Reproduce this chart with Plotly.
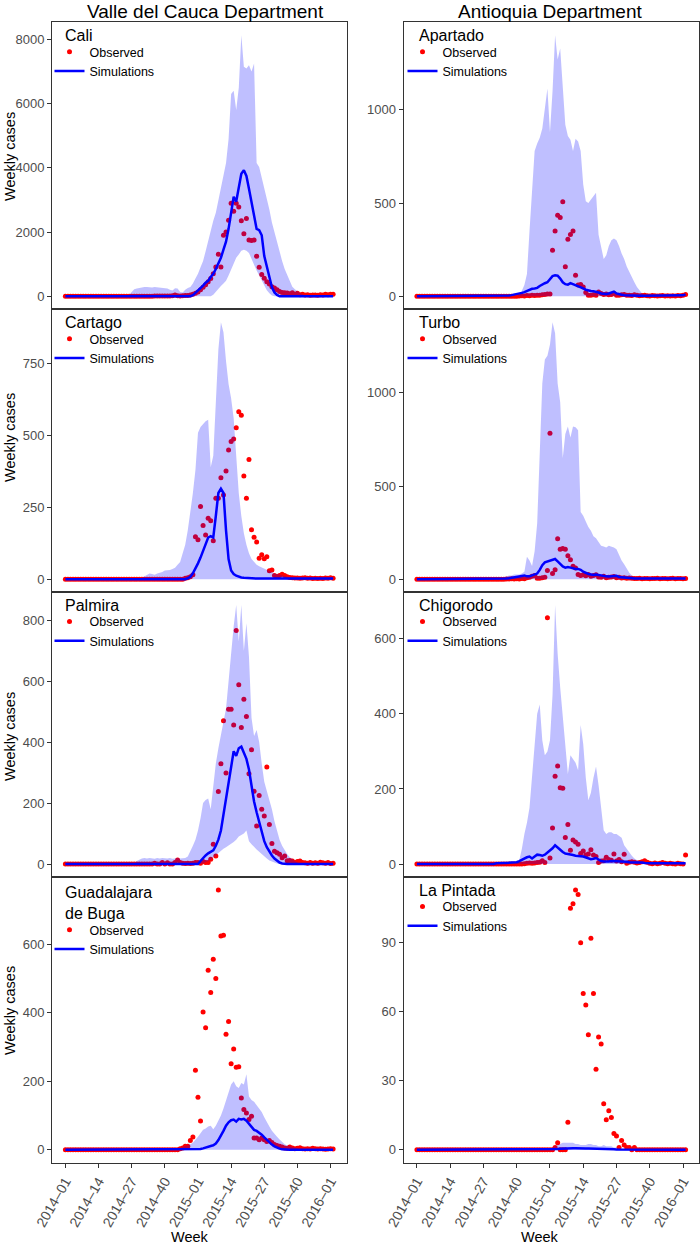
import plotly.graph_objects as go

FONT = "Liberation Sans, Arial, Helvetica, sans-serif"

# ---------------- categories (epidemiological weeks) ----------------
WEEK_LABELS = ([f"2014–{w:02d}" for w in range(1, 53)] +
               [f"2015–{w:02d}" for w in range(1, 53)] +
               ["2016–01", "2016–02"])
TICK_LABELS = ["2014–01", "2014–14", "2014–27", "2014–40", "2015–01",
               "2015–14", "2015–27", "2015–40", "2016–01"]

COLUMN_TITLES = ["Valle del Cauca Department", "Antioquia Department"]
PANEL_NAMES = ["Cali", "Apartado", "Cartago", "Turbo", "Palmira", "Chigorodo",
               "Guadalajara<br>de Buga", "La Pintada"]
Y_DTICKS = [2000, 500, 250, 500, 200, 200, 200, 30]

# ---------------- Cali ----------------
CALI_OBS = [0, 0, 0, 0, 0, 0, 0, 0, 0, 0,
            0, 0, 0, 0, 0, 0, 0, 0, 0, 0,
            0, 0, 0, 0, 0, 0, 0, 0, 0, 0,
            0, 0, 0, 0, 0, 5, 5, 5, 8, 8,
            10, 10, 15, 40, 15, 10, 15, 20, 25, 40,
            60, 90, 130, 200, 280, 360, 450, 550, 700, 910,
            1310, 910, 1900, 2000, 2370, 2900, 2650, 2900, 2780, 2350,
            1950, 2420, 1750, 1740, 1750, 1250, 900, 680, 560, 450,
            380, 300, 260, 200, 150, 120, 110, 100, 80, 110,
            60, 90, 50, 60, 40, 50, 30, 40, 40, 30,
            50, 40, 60, 50, 60, 60]
CALI_SIM = [0, 0, 0, 0, 0, 0, 0, 0, 0, 0,
            0, 0, 0, 0, 0, 0, 0, 0, 0, 0,
            0, 0, 0, 0, 0, 0, 0, 0, 0, 0,
            0, 0, 0, 0, 0, 0, 0, 0, 0, 0,
            0, 0, 0, 0, 0, 0, 0, 0, 0, 0,
            30, 100, 170, 250, 330, 420, 480, 600, 700, 850,
            1000, 1200, 1450, 1700, 2100, 2600, 3100, 2950, 3450, 3820,
            3930, 3750, 3350, 2900, 2450, 2100, 2060, 1900, 1250, 900,
            550, 280, 120, 40, 0, 0, 0, 0, 0, 0,
            0, 0, 0, 0, 0, 0, 0, 0, 0, 0,
            0, 0, 0, 0, 0, 0]
CALI_LO = [0, 0, 0, 0, 0, 0, 0, 0, 0, 0,
           0, 0, 0, 0, 0, 0, 0, 0, 0, 0,
           0, 0, 0, 0, 0, 0, 0, 0, 0, 0,
           0, 0, 0, 0, 0, 0, 0, 0, 0, 0,
           0, 0, 0, 0, 0, 0, 0, 0, 0, 0,
           0, 0, 0, 0, 0, 0, 0, 0, 50, 150,
           250, 320, 400, 480, 650, 850, 1050, 1200, 1300, 1420,
           1450, 1420, 1350, 1150, 950, 800, 650, 480, 330, 190,
           90, 20, 0, 0, 0, 0, 0, 0, 0, 0,
           0, 0, 0, 0, 0, 0, 0, 0, 0, 0,
           0, 0, 0, 0, 0, 0]
CALI_HI = [0, 0, 0, 0, 0, 0, 0, 0, 0, 0,
           0, 0, 0, 0, 0, 0, 0, 0, 0, 0,
           0, 0, 0, 0, 0, 50, 150, 220, 240, 260,
           280, 290, 290, 280, 270, 290, 280, 270, 260, 250,
           240, 200, 180, 250, 240, 130, 120, 200, 260, 290,
           400, 550, 700, 900, 1100, 1400, 1750, 2100, 2350, 2600,
           3000, 3400, 3750, 4150, 4900, 6300, 6400, 5800, 6500, 8130,
           7150, 7100, 7200, 7000, 7250, 4150, 4030, 3700, 3400, 3100,
           2700, 2300, 2000, 1650, 1350, 1100, 850, 650, 450, 300,
           220, 150, 100, 60, 20, 5, 0, 0, 0, 0,
           0, 0, 0, 0, 0, 0]

# ---------------- Apartado ----------------
APARTADO_OBS = [0, 0, 0, 0, 0, 0, 0, 0, 0, 0,
                0, 0, 0, 0, 0, 0, 0, 0, 0, 0,
                0, 0, 0, 0, 0, 0, 0, 0, 0, 0,
                0, 0, 0, 0, 0, 0, 0, 0, 0, 0,
                2, 3, 2, 4, 3, 5, 4, 5, 6, 8,
                10, 12, 12, 247, 350, 435, 423, 507, 158, 306,
                331, 350, 113, 60, 63, 50, 20, 5, 5, 8,
                5, 23, 15, 10, 12, 8, 10, 15, 6, 5,
                8, 10, 6, 5, 4, 8, 5, 3, 4, 5,
                3, 2, 4, 3, 2, 3, 4, 2, 3, 2,
                3, 2, 4, 3, 5, 10]
APARTADO_SIM = [0, 0, 0, 0, 0, 0, 0, 0, 0, 0,
                0, 0, 0, 0, 0, 0, 0, 0, 0, 0,
                0, 0, 0, 0, 0, 0, 0, 0, 0, 0,
                0, 0, 0, 0, 0, 2, 4, 6, 8, 10,
                14, 18, 22, 28, 35, 40, 42, 45, 55, 65,
                70, 75, 95, 108, 112, 110, 95, 75, 65, 62,
                70, 65, 58, 52, 48, 42, 35, 30, 28, 27,
                25, 20, 15, 12, 12, 15, 20, 25, 15, 10,
                8, 6, 5, 3, 3, 3, 3, 3, 3, 3,
                3, 3, 3, 3, 3, 3, 3, 3, 3, 3,
                3, 3, 3, 3, 5, 10]
APARTADO_LO = [0, 0, 0, 0, 0, 0, 0, 0, 0, 0,
               0, 0, 0, 0, 0, 0, 0, 0, 0, 0,
               0, 0, 0, 0, 0, 0, 0, 0, 0, 0,
               0, 0, 0, 0, 0, 0, 0, 0, 0, 0,
               0, 0, 0, 0, 0, 0, 0, 0, 0, 0,
               0, 0, 0, 0, 0, 0, 0, 0, 0, 0,
               0, 0, 0, 0, 0, 0, 0, 0, 0, 0,
               0, 0, 0, 0, 0, 0, 0, 0, 0, 0,
               0, 0, 0, 0, 0, 0, 0, 0, 0, 0,
               0, 0, 0, 0, 0, 0, 0, 0, 0, 0,
               0, 0, 0, 0, 0, 0]
APARTADO_HI = [0, 0, 0, 0, 0, 0, 0, 0, 0, 0,
               0, 0, 0, 0, 0, 0, 0, 0, 0, 0,
               0, 0, 0, 0, 0, 0, 0, 0, 0, 0,
               0, 0, 0, 0, 0, 0, 0, 0, 0, 0,
               10, 30, 60, 120, 350, 600, 780, 820, 850, 900,
               1000, 1115, 880, 1100, 1400, 1270, 1330, 1100, 920, 860,
               840, 780, 845, 830, 780, 600, 510, 500, 520, 540,
               555, 330, 260, 200, 220, 270, 300, 310, 300, 270,
               230, 200, 160, 130, 100, 75, 50, 30, 15, 5,
               0, 0, 0, 0, 0, 0, 0, 0, 0, 0,
               0, 0, 0, 0, 0, 0]

# ---------------- Cartago ----------------
CARTAGO_OBS = [0, 0, 0, 0, 0, 0, 0, 0, 0, 0,
               0, 0, 0, 0, 0, 0, 0, 0, 0, 0,
               0, 0, 0, 0, 0, 0, 0, 0, 0, 0,
               0, 0, 0, 0, 0, 0, 0, 0, 0, 0,
               0, 0, 0, 0, 0, 0, 0, 3, 5, 8,
               15, 148, 137, 253, 187, 154, 212, 203, 134, 282,
               282, 353, 293, 377, 450, 479, 488, 527, 583, 571,
               359, 282, 417, 172, 146, 129, 73, 85, 71, 78,
               29, 32, 13, 9, 13, 17, 13, 8, 6, 5,
               4, 4, 3, 4, 5, 3, 4, 2, 3, 2,
               3, 2, 4, 3, 5, 3]
CARTAGO_SIM = [0, 0, 0, 0, 0, 0, 0, 0, 0, 0,
               0, 0, 0, 0, 0, 0, 0, 0, 0, 0,
               0, 0, 0, 0, 0, 0, 0, 0, 0, 0,
               0, 0, 0, 0, 0, 0, 0, 0, 0, 0,
               0, 0, 0, 0, 0, 0, 0, 0, 3, 8,
               20, 35, 55, 75, 100, 125, 145, 150, 145, 220,
               300, 315, 300, 170, 70, 30, 18, 12, 8, 6,
               5, 4, 3, 2, 2, 2, 2, 2, 2, 2,
               2, 2, 2, 2, 2, 2, 2, 2, 2, 2,
               2, 2, 2, 2, 2, 2, 2, 2, 2, 2,
               2, 2, 2, 2, 2, 2]
CARTAGO_LO = [0, 0, 0, 0, 0, 0, 0, 0, 0, 0,
              0, 0, 0, 0, 0, 0, 0, 0, 0, 0,
              0, 0, 0, 0, 0, 0, 0, 0, 0, 0,
              0, 0, 0, 0, 0, 0, 0, 0, 0, 0,
              0, 0, 0, 0, 0, 0, 0, 0, 0, 0,
              0, 0, 0, 0, 0, 0, 0, 0, 0, 0,
              0, 0, 0, 0, 0, 0, 0, 0, 0, 0,
              0, 0, 0, 0, 0, 0, 0, 0, 0, 0,
              0, 0, 0, 0, 0, 0, 0, 0, 0, 0,
              0, 0, 0, 0, 0, 0, 0, 0, 0, 0,
              0, 0, 0, 0, 0, 0]
CARTAGO_HI = [0, 0, 0, 0, 0, 0, 0, 0, 0, 0,
              0, 0, 0, 0, 0, 0, 0, 0, 0, 0,
              0, 0, 0, 0, 0, 0, 0, 0, 0, 0,
              5, 10, 15, 20, 18, 15, 20, 22, 25, 30,
              30, 32, 35, 40, 50, 60, 90, 120, 170, 230,
              300, 380, 510, 530, 540, 550, 555, 390, 430, 600,
              800, 895, 860, 760, 680, 630, 560, 430, 300, 220,
              160, 120, 90, 70, 60, 50, 45, 40, 35, 32,
              28, 25, 20, 18, 15, 12, 10, 8, 6, 5,
              4, 3, 2, 2, 2, 2, 2, 2, 2, 2,
              2, 2, 2, 2, 2, 2]

# ---------------- Turbo ----------------
TURBO_OBS = [0, 0, 0, 0, 0, 0, 0, 0, 0, 0,
             0, 0, 0, 0, 0, 0, 0, 0, 0, 0,
             0, 0, 0, 0, 0, 0, 0, 0, 0, 0,
             0, 0, 0, 0, 0, 1, 1, 2, 1, 2,
             1, 3, 2, 8, 10, 15, 20, 5, 5, 8,
             10, 46, 783, 30, 51, 217, 161, 164, 161, 125,
             104, 69, 60, 25, 19, 23, 18, 25, 15, 20,
             23, 12, 10, 16, 8, 10, 12, 14, 8, 10,
             6, 8, 5, 6, 5, 4, 3, 5, 2, 4,
             3, 2, 4, 3, 5, 2, 3, 4, 2, 3,
             5, 2, 3, 4, 2, 3]
TURBO_SIM = [0, 0, 0, 0, 0, 0, 0, 0, 0, 0,
             0, 0, 0, 0, 0, 0, 0, 0, 0, 0,
             0, 0, 0, 0, 0, 0, 0, 0, 0, 0,
             0, 0, 0, 0, 0, 3, 5, 7, 8, 10,
             12, 15, 20, 15, 15, 20, 25, 30, 50, 75,
             90, 95, 100, 105, 108, 95, 80, 68, 62, 65,
             62, 58, 55, 55, 50, 40, 32, 28, 25, 22,
             25, 22, 18, 16, 15, 14, 15, 20, 18, 12,
             10, 12, 8, 6, 5, 3, 3, 3, 3, 3,
             3, 3, 3, 3, 3, 3, 3, 3, 3, 3,
             3, 3, 3, 3, 3, 3]
TURBO_LO = [0, 0, 0, 0, 0, 0, 0, 0, 0, 0,
            0, 0, 0, 0, 0, 0, 0, 0, 0, 0,
            0, 0, 0, 0, 0, 0, 0, 0, 0, 0,
            0, 0, 0, 0, 0, 0, 0, 0, 0, 0,
            0, 0, 0, 0, 0, 0, 0, 0, 0, 0,
            0, 0, 0, 0, 0, 0, 0, 0, 0, 0,
            0, 0, 0, 0, 0, 0, 0, 0, 0, 0,
            0, 0, 0, 0, 0, 0, 0, 0, 0, 0,
            0, 0, 0, 0, 0, 0, 0, 0, 0, 0,
            0, 0, 0, 0, 0, 0, 0, 0, 0, 0,
            0, 0, 0, 0, 0, 0]
TURBO_HI = [0, 0, 0, 0, 0, 0, 0, 0, 0, 0,
            0, 0, 0, 0, 0, 0, 0, 0, 0, 0,
            0, 0, 0, 0, 0, 0, 0, 0, 0, 0,
            0, 0, 0, 0, 10, 15, 20, 20, 25, 25,
            25, 30, 40, 120, 100, 70, 150, 300, 700, 1050,
            1180, 1200, 1260, 1380, 1320, 1050, 950, 650, 780, 820,
            760, 820, 815, 800, 360, 340, 310, 280, 260, 230,
            220, 200, 180, 175, 170, 180, 175, 170, 160, 130,
            100, 80, 55, 35, 20, 10, 5, 0, 0, 0,
            0, 0, 0, 0, 0, 0, 0, 0, 0, 0,
            0, 0, 0, 0, 0, 0]

# ---------------- Palmira ----------------
PALMIRA_OBS = [0, 0, 0, 0, 0, 0, 0, 0, 0, 0,
               0, 0, 0, 0, 0, 0, 0, 0, 0, 0,
               0, 0, 0, 0, 0, 0, 0, 0, 0, 0,
               0, 0, 0, 0, 0, 3, 0, 0, 5, 0,
               4, 0, 0, 5, 13, 5, 3, 2, 3, 2,
               3, 5, 5, 3, 8, 5, 5, 16, 65, 26,
               238, 329, 470, 299, 508, 508, 456, 766, 588, 448,
               541, 484, 296, 375, 239, 125, 225, 180, 158, 318,
               130, 67, 42, 37, 32, 21, 26, 11, 12, 10,
               5, 8, 10, 5, 4, 3, 5, 3, 4, 3,
               6, 4, 3, 5, 2, 3]
PALMIRA_SIM = [0, 0, 0, 0, 0, 0, 0, 0, 0, 0,
               0, 0, 0, 0, 0, 0, 0, 0, 0, 0,
               0, 0, 0, 0, 0, 0, 0, 0, 0, 0,
               0, 0, 0, 0, 0, 0, 0, 0, 0, 0,
               0, 0, 0, 0, 0, 0, 0, 0, 0, 0,
               0, 0, 0, 10, 20, 28, 35, 40, 45, 60,
               80, 110, 160, 210, 260, 320, 370, 355, 380, 385,
               365, 345, 310, 260, 205, 170, 135, 100, 75, 55,
               40, 28, 18, 10, 5, 2, 0, 0, 0, 0,
               0, 0, 0, 0, 0, 0, 0, 0, 0, 0,
               0, 0, 0, 0, 0, 0]
PALMIRA_LO = [0, 0, 0, 0, 0, 0, 0, 0, 0, 0,
              0, 0, 0, 0, 0, 0, 0, 0, 0, 0,
              0, 0, 0, 0, 0, 0, 0, 0, 0, 0,
              0, 0, 0, 0, 0, 0, 0, 0, 0, 0,
              0, 0, 0, 0, 0, 0, 0, 0, 0, 0,
              0, 0, 0, 0, 3, 6, 10, 15, 22, 30,
              38, 45, 50, 55, 60, 65, 72, 80, 90, 95,
              100, 110, 75, 65, 55, 48, 40, 32, 25, 18,
              12, 8, 5, 2, 0, 0, 0, 0, 0, 0,
              0, 0, 0, 0, 0, 0, 0, 0, 0, 0,
              0, 0, 0, 0, 0, 0]
PALMIRA_HI = [0, 0, 0, 0, 0, 0, 0, 0, 0, 0,
              0, 0, 0, 0, 0, 0, 0, 0, 0, 0,
              0, 0, 0, 0, 0, 0, 0, 0, 10, 15,
              18, 20, 18, 20, 19, 17, 20, 18, 20, 19,
              18, 20, 17, 18, 20, 18, 20, 20, 25, 40,
              60, 80, 110, 150, 200, 210, 215, 180, 260, 330,
              380, 420, 460, 510, 600, 700, 780, 850, 730, 850,
              700, 790, 680, 480, 420, 440, 400, 330, 270, 240,
              210, 180, 140, 110, 80, 60, 45, 32, 22, 15,
              10, 5, 2, 2, 2, 2, 2, 2, 2, 2,
              2, 2, 2, 2, 2, 2]

# ---------------- Chigorodo ----------------
CHIGORODO_OBS = [0, 0, 0, 0, 0, 0, 0, 0, 0, 0,
                 0, 0, 0, 0, 0, 0, 0, 0, 0, 0,
                 0, 0, 0, 0, 0, 0, 0, 0, 0, 0,
                 0, 0, 0, 0, 0, 0, 0, 0, 0, 0,
                 0, 0, 1, 2, 3, 2, 3, 4, 5, 9,
                 4, 656, 16, 96, 234, 261, 203, 202, 71, 105,
                 37, 64, 59, 53, 28, 35, 24, 27, 38, 24,
                 20, 4, 8, 9, 18, 12, 10, 27, 8, 12,
                 6, 26, 2, 5, 6, 5, 3, 4, 6, 9,
                 5, 2, 1, 3, 1, 2, 4, 2, 1, 2,
                 1, 0, 2, 1, 0, 24]
CHIGORODO_SIM = [0, 0, 0, 0, 0, 0, 0, 0, 0, 0,
                 0, 0, 0, 0, 0, 0, 0, 0, 0, 0,
                 0, 0, 0, 0, 0, 0, 0, 0, 0, 0,
                 0, 2, 3, 3, 3, 3, 3, 3, 4, 5,
                 8, 12, 15, 18, 20, 15, 20, 25, 24, 22,
                 25, 30, 35, 42, 50, 45, 38, 32, 28, 27,
                 26, 24, 22, 22, 21, 20, 18, 15, 13, 14,
                 16, 12, 8, 7, 6, 7, 8, 8, 7, 7,
                 6, 6, 6, 5, 5, 5, 6, 5, 4, 3,
                 2, 2, 2, 2, 2, 2, 2, 2, 2, 2,
                 2, 2, 2, 2, 2, 2]
CHIGORODO_LO = [0, 0, 0, 0, 0, 0, 0, 0, 0, 0,
                0, 0, 0, 0, 0, 0, 0, 0, 0, 0,
                0, 0, 0, 0, 0, 0, 0, 0, 0, 0,
                0, 0, 0, 0, 0, 0, 0, 0, 0, 0,
                0, 0, 0, 0, 0, 0, 0, 0, 0, 0,
                0, 0, 0, 0, 0, 0, 0, 0, 0, 0,
                0, 0, 0, 0, 0, 0, 0, 0, 0, 0,
                0, 0, 0, 0, 0, 0, 0, 0, 0, 0,
                0, 0, 0, 0, 0, 0, 0, 0, 0, 0,
                0, 0, 0, 0, 0, 0, 0, 0, 0, 0,
                0, 0, 0, 0, 0, 0]
CHIGORODO_HI = [0, 0, 0, 0, 0, 0, 0, 0, 0, 0,
                0, 0, 0, 0, 0, 0, 0, 0, 0, 0,
                0, 0, 0, 0, 0, 0, 0, 0, 0, 0,
                0, 0, 0, 0, 0, 0, 0, 0, 0, 0,
                10, 40, 80, 110, 150, 240, 330, 400, 425, 330,
                290, 300, 330, 450, 690, 560, 470, 390, 300, 240,
                290, 280, 270, 250, 370, 320, 230, 170, 190, 230,
                260, 210, 140, 90, 80, 85, 85, 80, 80, 75,
                70, 50, 40, 30, 22, 15, 10, 5, 2, 0,
                0, 0, 0, 0, 0, 0, 0, 0, 0, 0,
                0, 0, 0, 0, 0, 0]

# ---------------- Guadalajara de Buga ----------------
BUGA_OBS = [0, 0, 0, 0, 0, 0, 0, 0, 0, 0,
            0, 0, 0, 0, 0, 0, 0, 0, 0, 0,
            0, 0, 0, 0, 0, 0, 0, 0, 0, 0,
            0, 0, 0, 0, 0, 0, 0, 0, 0, 0,
            0, 0, 0, 0, 0, 3, 5, 10, 10, 27,
            37, 232, 153, 84, 402, 356, 524, 459, 556, 500,
            758, 624, 626, 337, 374, 251, 294, 241, 242, 151,
            117, 107, 88, 98, 34, 34, 29, 34, 29, 24,
            27, 21, 15, 12, 10, 8, 5, 4, 8, 5,
            3, 4, 6, 3, 2, 3, 2, 4, 3, 2,
            3, 2, 1, 2, 3, 2]
BUGA_SIM = [0, 0, 0, 0, 0, 0, 0, 0, 0, 0,
            0, 0, 0, 0, 0, 0, 0, 0, 0, 0,
            0, 0, 0, 0, 0, 0, 0, 0, 0, 0,
            0, 0, 0, 0, 0, 0, 0, 0, 0, 0,
            0, 0, 0, 0, 0, 0, 0, 0, 0, 0,
            0, 0, 1, 2, 4, 7, 9, 11, 13, 18,
            28, 40, 55, 70, 80, 86, 88, 82, 90, 88,
            90, 85, 76, 66, 58, 55, 50, 44, 36, 28,
            22, 15, 10, 6, 3, 1, 0, 0, 0, 0,
            0, 0, 0, 0, 0, 0, 0, 0, 0, 0,
            0, 0, 0, 0, 0, 0]
BUGA_LO = [0, 0, 0, 0, 0, 0, 0, 0, 0, 0,
           0, 0, 0, 0, 0, 0, 0, 0, 0, 0,
           0, 0, 0, 0, 0, 0, 0, 0, 0, 0,
           0, 0, 0, 0, 0, 0, 0, 0, 0, 0,
           0, 0, 0, 0, 0, 0, 0, 0, 0, 0,
           0, 0, 0, 0, 0, 0, 0, 0, 0, 0,
           0, 0, 0, 0, 0, 0, 0, 0, 0, 0,
           0, 0, 0, 0, 0, 0, 0, 0, 0, 0,
           0, 0, 0, 0, 0, 0, 0, 0, 0, 0,
           0, 0, 0, 0, 0, 0, 0, 0, 0, 0,
           0, 0, 0, 0, 0, 0]
BUGA_HI = [0, 0, 0, 0, 0, 0, 0, 0, 0, 0,
           0, 0, 0, 0, 0, 0, 0, 0, 0, 0,
           0, 0, 0, 0, 0, 0, 0, 0, 0, 0,
           0, 0, 0, 0, 0, 0, 2, 3, 3, 4,
           4, 4, 5, 5, 5, 6, 8, 10, 12, 16,
           20, 28, 38, 48, 58, 62, 68, 70, 60, 70,
           85, 100, 120, 145, 170, 190, 200, 185, 180, 195,
           190, 220, 155, 145, 140, 130, 120, 110, 95, 80,
           68, 55, 45, 38, 30, 22, 16, 12, 10, 7,
           5, 3, 2, 0, 0, 0, 0, 0, 0, 0,
           0, 0, 0, 0, 0, 0]

# ---------------- La Pintada ----------------
PINTADA_OBS = [0, 0, 0, 0, 0, 0, 0, 0, 0, 0,
               0, 0, 0, 0, 0, 0, 0, 0, 0, 0,
               0, 0, 0, 0, 0, 0, 0, 0, 0, 0,
               0, 0, 0, 0, 0, 0, 0, 0, 0, 0,
               0, 0, 0, 0, 0, 0, 0, 0, 0, 0,
               0, 0, 0, 0, 1, 3, 0, 0, 0, 12,
               105, 107, 113, 111, 90, 68, 63, 50, 92, 68,
               35, 49, 46, 20, 13, 17, 14, 7, 6, 1,
               4, 2, 1, 1, 0, 1, 0, 0, 0, 0,
               0, 0, 0, 0, 0, 0, 0, 0, 0, 0,
               0, 0, 0, 0, 0, 0]
PINTADA_SIM = [0, 0, 0, 0, 0, 0, 0, 0, 0, 0,
               0, 0, 0, 0, 0, 0, 0, 0, 0, 0,
               0, 0, 0, 0, 0, 0, 0, 0, 0, 0,
               0, 0, 0, 0, 0, 0, 0, 0, 0, 0,
               0, 0, 0, 0, 0, 0, 0, 0, 0, 0,
               0, 0, 0, 0, 0.2, 0.3, 0.4, 0.5, 0.5, 0.6,
               0.6, 0.6, 0.6, 0.5, 0.5, 0.5, 0.5, 0.5, 0.5, 0.4,
               0.4, 0.3, 0.3, 0.3, 0.3, 0.2, 0.2, 0.2, 0.1, 0.1,
               0.1, 0, 0, 0, 0, 0, 0, 0, 0, 0,
               0, 0, 0, 0, 0, 0, 0, 0, 0, 0,
               0, 0, 0, 0, 0, 0]
PINTADA_LO = [0, 0, 0, 0, 0, 0, 0, 0, 0, 0,
              0, 0, 0, 0, 0, 0, 0, 0, 0, 0,
              0, 0, 0, 0, 0, 0, 0, 0, 0, 0,
              0, 0, 0, 0, 0, 0, 0, 0, 0, 0,
              0, 0, 0, 0, 0, 0, 0, 0, 0, 0,
              0, 0, 0, 0, 0, 0, 0, 0, 0, 0,
              0, 0, 0, 0, 0, 0, 0, 0, 0, 0,
              0, 0, 0, 0, 0, 0, 0, 0, 0, 0,
              0, 0, 0, 0, 0, 0, 0, 0, 0, 0,
              0, 0, 0, 0, 0, 0, 0, 0, 0, 0,
              0, 0, 0, 0, 0, 0]
PINTADA_HI = [0, 0, 0, 0, 0, 0, 0, 0, 0, 0,
              0, 0, 0, 0, 0, 0, 0, 0, 0, 0,
              0, 0, 0, 0, 0, 0, 0, 0, 0, 0,
              0, 0, 0, 0, 0, 0, 0, 0, 0, 0,
              0, 0, 0, 0, 0, 0, 0, 0, 0, 0,
              0, 0, 0.5, 1, 1.5, 2, 2.5, 3, 3, 3,
              3, 3, 2.5, 2.5, 2, 2, 2, 2.5, 2.5, 2,
              2, 1.5, 1.5, 2, 1.5, 1.5, 1.5, 1, 1, 0.5,
              0.5, 0.3, 0, 0, 0, 0, 0, 0, 0, 0,
              0, 0, 0, 0, 0, 0, 0, 0, 0, 0,
              0, 0, 0, 0, 0, 0]

PANEL_DATA = [
    (CALI_OBS, CALI_SIM, CALI_LO, CALI_HI),
    (APARTADO_OBS, APARTADO_SIM, APARTADO_LO, APARTADO_HI),
    (CARTAGO_OBS, CARTAGO_SIM, CARTAGO_LO, CARTAGO_HI),
    (TURBO_OBS, TURBO_SIM, TURBO_LO, TURBO_HI),
    (PALMIRA_OBS, PALMIRA_SIM, PALMIRA_LO, PALMIRA_HI),
    (CHIGORODO_OBS, CHIGORODO_SIM, CHIGORODO_LO, CHIGORODO_HI),
    (BUGA_OBS, BUGA_SIM, BUGA_LO, BUGA_HI),
    (PINTADA_OBS, PINTADA_SIM, PINTADA_LO, PINTADA_HI),
]

for grp in PANEL_DATA:
    for s in grp:
        assert len(s) == len(WEEK_LABELS), (len(s), len(WEEK_LABELS))

# ---------------- layout geometry (pixels) ----------------
W, H = 700, 1246
COLS = [(52.0, 346.5), (403.5, 699.0)]
ROWS = [(22.3, 309.3), (309.3, 592.0), (592.0, 877.0), (877.0, 1162.7)]
YTITLE_CENTERS = [157, 438, 737, 1011]

BAND = "rgba(0,0,255,0.25)"
RED = "#FF0000"
BLUE = "#0000FF"
AXIS_COL = "#333333"
TICK_COL = "#4D4D4D"


def px_x(p):
    return p / W


def px_y(p):
    return 1 - p / H


fig = go.Figure()
layout = dict(width=W, height=H, autosize=False,
              margin=dict(l=0, r=0, t=0, b=0, pad=0),
              paper_bgcolor="white", plot_bgcolor="white",
              font=dict(family=FONT, color="black"),
              showlegend=True)
annotations = []

for i, (obs, sim, lo, hi) in enumerate(PANEL_DATA):
    k = i + 1
    r, c = divmod(i, 2)
    xname = "x" if k == 1 else f"x{k}"
    yname = "y" if k == 1 else f"y{k}"
    lname = "legend" if k == 1 else f"legend{k}"
    x0, x1 = COLS[c]
    y0, y1 = ROWS[r]

    fig.add_trace(go.Scatter(x=WEEK_LABELS, y=obs, mode="markers", name="Observed",
                             marker=dict(color=RED, size=5, line=dict(width=0)),
                             xaxis=xname, yaxis=yname, legend=lname, showlegend=True))
    fig.add_trace(go.Scatter(x=WEEK_LABELS, y=lo, mode="lines", line=dict(width=0, color=BAND),
                             xaxis=xname, yaxis=yname, legend=lname,
                             showlegend=False, hoverinfo="skip"))
    fig.add_trace(go.Scatter(x=WEEK_LABELS, y=hi, mode="lines", line=dict(width=0, color=BAND),
                             fill="tonexty", fillcolor=BAND, legend=lname,
                             xaxis=xname, yaxis=yname, showlegend=False, hoverinfo="skip"))
    fig.add_trace(go.Scatter(x=WEEK_LABELS, y=sim, mode="lines", name="Simulations",
                             line=dict(color=BLUE, width=2.5),
                             xaxis=xname, yaxis=yname, legend=lname, showlegend=True))

    ymax = max(max(obs), max(hi), max(sim))
    bottom_row = (r == 3)
    layout["xaxis" if k == 1 else f"xaxis{k}"] = dict(
        domain=[px_x(x0), px_x(x1)], anchor=yname, type="category",
        categoryorder="array", categoryarray=WEEK_LABELS,
        range=[-0.05 * (len(WEEK_LABELS) - 1), 1.05 * (len(WEEK_LABELS) - 1)],
        tickmode="array", tickvals=TICK_LABELS, ticktext=TICK_LABELS,
        showticklabels=bottom_row, ticks="outside" if bottom_row else "",
        ticklen=4, tickcolor=AXIS_COL, tickwidth=1, tickangle=-60,
        tickfont=dict(size=14, color=TICK_COL, family=FONT),
        showgrid=False, zeroline=False, showline=True, mirror=True,
        linecolor=AXIS_COL, linewidth=1, fixedrange=True, automargin=False)
    layout["yaxis" if k == 1 else f"yaxis{k}"] = dict(
        domain=[px_y(y1), px_y(y0)], anchor=xname,
        range=[-0.05 * ymax, 1.05 * ymax], tick0=0, dtick=Y_DTICKS[i],
        ticks="outside", ticklen=4, tickcolor=AXIS_COL, tickwidth=1,
        tickfont=dict(size=13, color=TICK_COL, family=FONT),
        showgrid=False, zeroline=False, showline=True, mirror=True,
        linecolor=AXIS_COL, linewidth=1, fixedrange=True, automargin=False)

    two_line = "<br>" in PANEL_NAMES[i]
    legend_top = y0 + (38.2 if two_line else 14.8)
    layout[lname] = dict(
        x=px_x(x0 - 2.5 + (1.5 if c == 1 else 0)), y=px_y(legend_top),
        xanchor="left", yanchor="top", bgcolor="rgba(0,0,0,0)", borderwidth=0,
        font=dict(size=12.5, color="black", family=FONT), tracegroupgap=0,
        traceorder="normal", itemwidth=30)

    annotations.append(dict(
        text=PANEL_NAMES[i], xref="paper", yref="paper",
        x=px_x(x0 + (10.7 if c == 0 else 13.2)),
        y=px_y(y0 + (25.5 if two_line else 13.5)),
        xanchor="left", yanchor="middle", align="left", showarrow=False,
        font=dict(size=16, color="black", family=FONT)))

for c, t in enumerate(COLUMN_TITLES):
    annotations.append(dict(text=t, xref="paper", yref="paper",
                            x=px_x([206, 550][c]), y=1, xanchor="center",
                            yanchor="top", showarrow=False, borderpad=0,
                            font=dict(size=19, color="black", family=FONT)))
    annotations.append(dict(text="Week", xref="paper", yref="paper",
                            x=px_x([190, 540][c]), y=0, xanchor="center",
                            yanchor="bottom", showarrow=False, borderpad=0,
                            font=dict(size=14.5, color="black", family=FONT)))
for yc in YTITLE_CENTERS:
    annotations.append(dict(text="Weekly cases", xref="paper", yref="paper",
                            x=px_x(10), y=px_y(yc), xanchor="center", yanchor="middle",
                            textangle=-90, showarrow=False,
                            font=dict(size=14.5, color="black", family=FONT)))

layout["annotations"] = annotations
fig.update_layout(**layout)
fig.write_html(
    "out.html",
    config=dict(responsive=False, displayModeBar=False),
    post_script=("document.body.style.margin='0';"
                 "document.body.style.padding='0';"
                 "document.documentElement.style.overflow='hidden';"
                 "document.body.style.overflow='hidden';"),
)
